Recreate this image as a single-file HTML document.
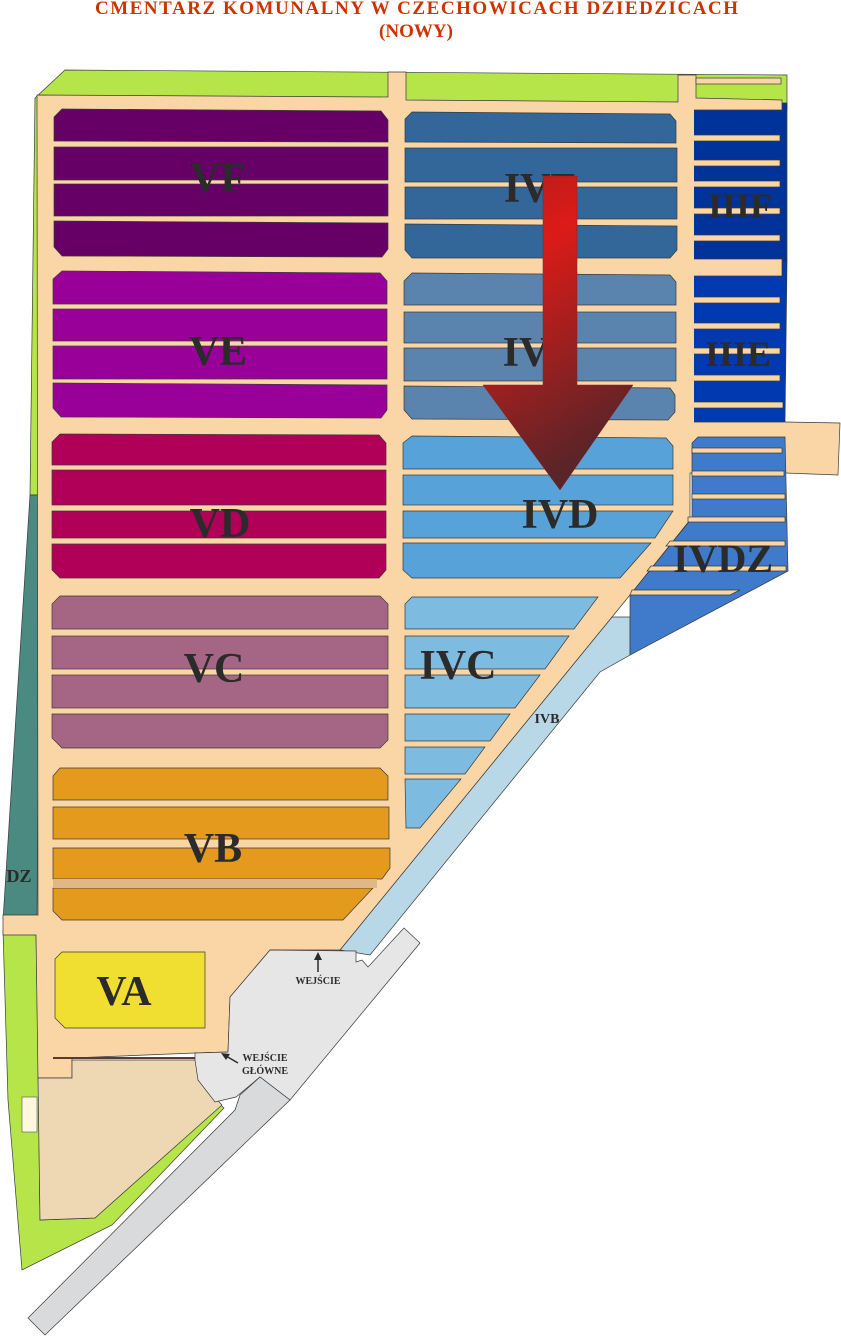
<!DOCTYPE html>
<html><head><meta charset="utf-8"><style>
html,body{margin:0;padding:0;background:#fff;}
svg{display:block;}
.l{font-family:"Liberation Serif",serif;font-weight:bold;fill:#2b2b2b;}
.b{stroke:#3a3a3a;stroke-width:0.7;}
</style></head><body>
<svg width="841" height="1337" viewBox="0 0 841 1337" xmlns="http://www.w3.org/2000/svg">
<defs>
<linearGradient id="ar" x1="0" y1="0" x2="0.3" y2="1">
<stop offset="0" stop-color="#b01c1c"/><stop offset="0.3" stop-color="#dc1b17"/><stop offset="1" stop-color="#5a2428"/>
</linearGradient>
</defs>
<text x="95" y="14" textLength="643" lengthAdjust="spacing" font-family="Liberation Serif,serif" font-weight="bold" font-size="19" fill="#cc3300">CMENTARZ  KOMUNALNY  W  CZECHOWICACH  DZIEDZICACH</text>
<text x="416" y="37" text-anchor="middle" font-family="Liberation Serif,serif" font-weight="bold" font-size="19" fill="#cc3300">(NOWY)</text>

<polygon class="b" fill="#b5e548" points="35,98 65,70 787,75 787,110 40,110 40,495 30,495"/>
<polygon class="b" fill="#4a8a80" points="30,495 40,495 37,920 3,920"/>
<polygon class="b" fill="#b5e548" points="3,930 36,930 38,1060 40,1220 95,1218 215,1100 224,1108 112,1225 22,1270 8,1100"/>
<polygon class="b" fill="#003399" points="690,103 787,103 787,262 690,262"/>
<polygon class="b" fill="#0039b0" points="690,262 787,262 785,422 690,422"/>
<polygon class="b" fill="#b8d8e8" points="612,617 630,617 630,655 600,672 370,955 340,950"/>
<polygon class="b" fill="#fad5a5" points="37,95 388,97 388,72 406,72 406,100 678,102 678,75 696,75 696,98 782,100 782,110 693,110 693,422 785,422 840,423 838,475 785,473 690,473 690,520 630,595 612,617 340,950 270,950 230,997 228,1052 195,1053 72,1058 72,1078 38,1078 36,935 3,935 3,915 38,915"/>
<rect x="696" y="78" width="85" height="6" class="b" fill="#fad5a5"/>
<g class="b" fill="#fad5a5">
<rect x="690" y="135" width="90" height="6"/><rect x="690" y="160" width="90" height="6"/><rect x="690" y="181" width="90" height="6"/><rect x="690" y="208" width="90" height="6"/><rect x="690" y="235" width="90" height="6"/>
<rect x="690" y="259" width="92" height="17"/>
<rect x="690" y="297" width="90" height="6"/><rect x="690" y="323" width="90" height="6"/><rect x="690" y="348" width="90" height="6"/><rect x="690" y="375" width="90" height="6"/><rect x="690" y="402" width="93" height="6"/>
</g>
<rect x="688" y="100" width="6" height="325" fill="#fad5a5"/>
<polygon class="b" fill="#3f7acb" points="698,437 785,437 788,571 630,655 630,595 692,518 692,443"/>
<g class="b" fill="#fad5a5">
<rect x="692" y="448" width="90" height="5"/><rect x="692" y="471" width="92" height="5"/><rect x="692" y="494" width="93" height="5"/><rect x="688" y="517" width="97" height="5"/>
<polygon points="670,541 785,541 785,546 666,546"/><polygon points="651,566 786,566 786,571 647,571"/><polygon points="632,590 740,590 730,595 630,595"/>
</g>

<g class="b">
<g fill="#660066">
<polygon points="62,109 381,111 388,120 388,142 54,141 54,117"/>
<rect x="54" y="147" width="334" height="33"/>
<rect x="54" y="184" width="334" height="32"/>
<polygon points="54,221 388,223 388,249 382,257 62,256 54,247"/>
</g>
<g fill="#990099">
<polygon points="62,271 380,273 387,281 387,304 53,304 53,279"/>
<rect x="53" y="309" width="334" height="32"/>
<rect x="53" y="346" width="334" height="33"/>
<polygon points="53,383 387,385 387,410 381,418 61,417 53,408"/>
</g>
<g fill="#b00057">
<polygon points="60,434 379,435 386,443 386,465 52,465 52,442"/>
<rect x="52" y="470" width="334" height="35"/>
<rect x="52" y="511" width="334" height="27"/>
<polygon points="52,544 386,544 386,570 379,578 60,578 52,570"/>
</g>
<g fill="#a56686">
<polygon points="60,596 380,596 388,604 388,629 52,629 52,604"/>
<rect x="52" y="636" width="336" height="33"/>
<rect x="52" y="675" width="336" height="33"/>
<polygon points="52,714 388,714 388,740 380,748 62,748 52,738"/>
</g>
<g fill="#e49a1c">
<polygon points="60,768 380,768 388,776 388,800 53,800 53,776"/>
<rect x="53" y="807" width="336" height="32"/>
<polygon points="53,848 390,848 390,868 382,879 53,879"/>
<polygon points="53,888 373,888 343,920 62,920 53,911"/>
</g>
<rect x="53" y="879" width="324" height="9" fill="#e0b888" stroke="none"/>
<polygon fill="#f0df30" points="62,952 205,952 205,1028 65,1028 55,1018 55,959"/>
</g>

<g class="b">
<g fill="#336699">
<polygon points="412,112 670,114 676,121 676,143 405,142 405,119"/>
<rect x="405" y="148" width="272" height="34"/>
<rect x="405" y="187" width="272" height="32"/>
<polygon points="405,224 677,226 677,250 670,258 412,258 405,250"/>
</g>
<g fill="#5a83ad">
<polygon points="412,273 670,275 676,282 676,305 404,305 404,281"/>
<rect x="404" y="312" width="272" height="31"/>
<rect x="404" y="348" width="272" height="33"/>
<polygon points="404,386 670,388 675,395 675,412 668,420 412,419 404,410"/>
</g>
<g fill="#57a3d9">
<polygon points="412,436 666,438 673,446 673,469 403,469 403,443"/>
<rect x="403" y="475" width="270" height="30"/>
<polygon points="403,511 673,511 655,538 403,538"/>
<polygon points="403,543 651,543 620,578 412,578 403,570"/>
</g>
<g fill="#7ebbe1">
<polygon points="412,597 598,597 574,629 405,629 405,604"/>
<polygon points="405,636 569,636 545,669 405,669"/>
<polygon points="405,675 540,675 515,708 405,708"/>
<polygon points="405,714 510,714 490,741 405,741"/>
<polygon points="405,747 485,747 465,774 405,774"/>
<polygon points="405,779 461,779 420,828 406,828"/>
</g>
</g>

<polygon class="b" fill="#eed8b3" points="38,1078 72,1078 72,1060 198,1060 198,1080 222,1105 95,1218 40,1220"/>
<line x1="53" y1="1058" x2="197" y2="1058" stroke="#5a3a30" stroke-width="2"/>
<rect x="22" y="1097" width="15" height="35" fill="#fff8dc" stroke="#555" stroke-width="0.6"/>
<polygon class="b" fill="#e6e6e6" points="270,950 356,951 356,962 362,960 368,967 404,928 420,943 290,1100 260,1077 236,1097 215,1102 198,1080 195,1060 195,1053 228,1052 230,997"/>
<polygon class="b" fill="#d9dadb" points="260,1077 290,1100 45,1335 28,1318 235,1110 240,1095"/>

<text class="l" x="218" y="192" font-size="42" text-anchor="middle">VF</text>
<text class="l" x="540" y="202" font-size="42" text-anchor="middle">IVF</text>
<text class="l" x="740" y="218" font-size="36" text-anchor="middle">IIIF</text>
<text class="l" x="218" y="365" font-size="42" text-anchor="middle">VE</text>
<text class="l" x="540" y="366" font-size="42" text-anchor="middle">IVE</text>
<text class="l" x="738" y="366" font-size="36" text-anchor="middle">IIIE</text>
<text class="l" x="220" y="537" font-size="42" text-anchor="middle">VD</text>
<text class="l" x="560" y="528" font-size="42" text-anchor="middle">IVD</text>
<text class="l" x="723" y="572" font-size="40" text-anchor="middle">IVDZ</text>
<text class="l" x="214" y="682" font-size="42" text-anchor="middle">VC</text>
<text class="l" x="458" y="679" font-size="42" text-anchor="middle">IVC</text>
<text class="l" x="547" y="723" font-size="14" text-anchor="middle">IVB</text>
<text class="l" x="213" y="862" font-size="42" text-anchor="middle">VB</text>
<text class="l" x="124" y="1005" font-size="42" text-anchor="middle">VA</text>
<text class="l" x="19" y="882" font-size="18" text-anchor="middle">DZ</text>
<text class="l" x="318" y="984" font-size="10" text-anchor="middle">WEJŚCIE</text>
<line x1="318" y1="972" x2="318" y2="958" stroke="#2b2b2b" stroke-width="1.5"/>
<polygon points="314,960 322,960 318,952" fill="#2b2b2b"/>
<text class="l" x="265" y="1061" font-size="10" text-anchor="middle">WEJŚCIE</text>
<text class="l" x="265" y="1074" font-size="10" text-anchor="middle">GŁÓWNE</text>
<line x1="238" y1="1063" x2="226" y2="1056" stroke="#2b2b2b" stroke-width="1.5"/>
<polygon points="221,1053 230,1054 226,1060" fill="#2b2b2b"/>

<polygon fill="url(#ar)" stroke="#7a2a2a" stroke-width="0.5" points="543,176 577,176 577,385 633,385 560,490 483,385 543,385"/>
</svg>
</body></html>
